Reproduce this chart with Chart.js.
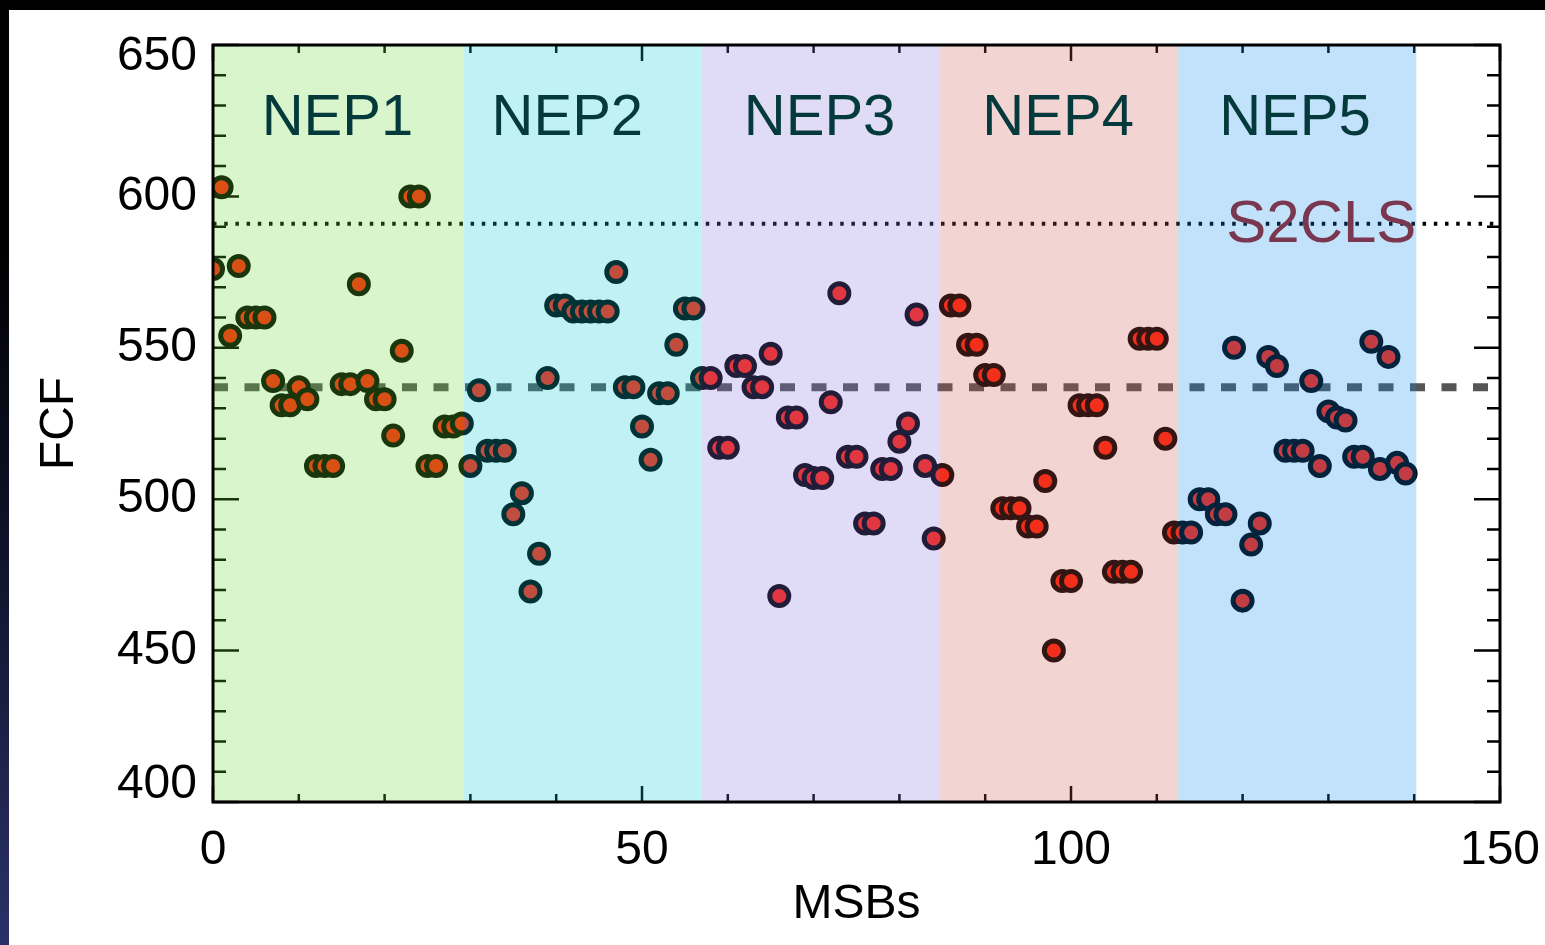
<!DOCTYPE html>
<html>
<head>
<meta charset="utf-8">
<title>FCF per MSB</title>
<script src="https://cdn.jsdelivr.net/npm/chart.js@4/dist/chart.umd.min.js"></script>
<style>
  html, body { margin: 0; padding: 0; }
  body {
    width: 1545px; height: 945px; overflow: hidden;
    background: linear-gradient(180deg, #000 0%, #000 25%, #10142c 60%, #2b3168 100%);
  }
  #wrap { position: absolute; left: 9px; top: 10px; width: 1536px; height: 935px; background: #fff; }
</style>
</head>
<body>
<div id="wrap"><canvas id="fcfChart" width="1536" height="935"></canvas></div>
<script>
/* FCF of every MSB, shaded by NEP field */

// one FCF value per MSB, MSB number = position in the list
let fcf = [
  576, 603, 554, 577, 560, 560, 560, 539, 531, 531,
  537, 533, 511, 511, 511, 538, 538, 571, 539, 533,
  533, 521, 549, 600, 600, 511, 511, 524, 524, 525,
  511, 536, 516, 516, 516, 495, 502, 469.5, 482, 540,
  564, 564, 562, 562, 562, 562, 562, 575, 537, 537,
  524, 513, 535, 535, 551, 563, 563, 540, 540, 517,
  517, 544, 544, 537, 537, 548, 468, 527, 527, 508,
  507, 507, 532, 568, 514, 514, 492, 492, 510, 510,
  519, 525, 561, 511, 487, 508, 564, 564, 551, 551,
  541, 541, 497, 497, 497, 491, 491, 506, 450, 473,
  473, 531, 531, 531, 517, 476, 476, 476, 553, 553,
  553, 520, 489, 489, 489, 500, 500, 495, 495, 550,
  466.5, 485, 492, 547, 544, 516, 516, 516, 539, 511,
  529, 527, 526, 514, 514, 552, 510, 547, 512, 508.5
];

let fieldNames = ['NEP1', 'NEP2', 'NEP3', 'NEP4', 'NEP5'];
let fieldEdges = [0, 29.25, 57, 84.75, 112.5, 140.25];
let fieldLabelX = [14.5, 41.3, 70.7, 98.5, 126.1];
let fieldColors = ['rgb(103,215,51)', 'rgb(3,203,215)', 'rgb(131,115,227)', 'rgb(203,83,75)', 'rgb(11,139,239)'];

let meanFcf = 537;   // dashed line
let s2clsFcf = 591;  // dotted line

let xTickValues = [0, 50, 100, 150];
let yTickValues = [400, 450, 500, 550, 600, 650];

Chart.defaults.font.family = '"Liberation Sans", Arial, Helvetica, sans-serif';
Chart.defaults.color = '#000';

let points = fcf.map((v, i) => ({ x: i, y: v }));

// ticks under the shading, frame and text on top of it
let decorations = {
  id: 'decorations',
  beforeDatasetsDraw(chart) {
    let { ctx, chartArea: a, scales: { x, y } } = chart;
    ctx.save();
    ctx.strokeStyle = '#000';
    ctx.lineWidth = 2.5;
    ctx.beginPath();
    for (let v = y.min; v <= y.max; v += 10) {
      let py = y.getPixelForValue(v);
      let len = v % 50 === 0 ? 26 : 13;
      ctx.moveTo(a.left, py); ctx.lineTo(a.left + len, py);
      ctx.moveTo(a.right, py); ctx.lineTo(a.right - len, py);
    }
    for (let v = x.min; v <= x.max; v += 10) {
      let px = x.getPixelForValue(v);
      let len = v % 50 === 0 ? 16 : 8;
      ctx.moveTo(px, a.bottom); ctx.lineTo(px, a.bottom - len);
      ctx.moveTo(px, a.top); ctx.lineTo(px, a.top + len);
    }
    ctx.stroke();
    ctx.restore();
  },
  afterDatasetsDraw(chart) {
    let { ctx, chartArea: a, scales: { x, y } } = chart;
    ctx.save();

    // field bands
    ctx.globalAlpha = 0.25;
    for (let i = 0; i < fieldNames.length; i++) {
      let x0 = x.getPixelForValue(fieldEdges[i]);
      let x1 = x.getPixelForValue(fieldEdges[i + 1]);
      ctx.fillStyle = fieldColors[i];
      ctx.fillRect(x0, a.top, x1 - x0, a.bottom - a.top);
    }
    ctx.globalAlpha = 1;

    // axes box
    ctx.strokeStyle = '#000';
    ctx.lineWidth = 3;
    ctx.strokeRect(a.left, a.top, a.right - a.left, a.bottom - a.top);

    // field names
    ctx.font = '58px "Liberation Sans", Arial, sans-serif';
    ctx.fillStyle = '#053a3c';
    ctx.textAlign = 'center';
    ctx.textBaseline = 'alphabetic';
    fieldNames.forEach((name, i) => {
      ctx.fillText(name, x.getPixelForValue(fieldLabelX[i]), a.top + 90);
    });

    // S2CLS tag on the dotted line
    ctx.font = '60px "Liberation Sans", Arial, sans-serif';
    ctx.fillStyle = '#7a3750';
    ctx.textAlign = 'right';
    ctx.fillText('S2CLS', x.getPixelForValue(fieldEdges[fieldEdges.length - 1]), y.getPixelForValue(s2clsFcf) + 18);

    // y tick labels, end ones kept inside the box
    ctx.font = '48px "Liberation Sans", Arial, sans-serif';
    ctx.fillStyle = '#000';
    ctx.textAlign = 'right';
    ctx.textBaseline = 'middle';
    yTickValues.forEach(v => {
      let py = Math.min(Math.max(y.getPixelForValue(v), a.top + 12), a.bottom - 17);
      ctx.fillText(String(v), a.left - 16, py);
    });

    ctx.restore();
  }
};

let ctx = document.getElementById('fcfChart').getContext('2d');

let fcfChart = new Chart(ctx, {
  type: 'scatter',
  data: {
    datasets: [
      {
        label: 'FCF',
        data: points,
        backgroundColor: 'rgb(255,35,10)',
        borderColor: '#000',
        borderWidth: 5,
        pointRadius: 9.5,
        clip: 0
      },
      {
        type: 'line',
        label: 'mean',
        data: [{ x: 0, y: meanFcf }, { x: 150, y: meanFcf }],
        borderColor: '#555',
        borderWidth: 8,
        borderDash: [15, 16.5],
        pointRadius: 0
      },
      {
        type: 'line',
        label: 'S2CLS',
        data: [{ x: 0, y: s2clsFcf }, { x: 150, y: s2clsFcf }],
        borderColor: '#000',
        borderWidth: 4,
        borderDash: [3.5, 7.7],
        pointRadius: 0
      }
    ]
  },
  options: {
    responsive: false,
    animation: false,
    events: [],
    layout: { padding: { left: 0, top: 35, right: 45, bottom: 0 } },
    plugins: {
      legend: { display: false },
      tooltip: { enabled: false }
    },
    scales: {
      x: {
        type: 'linear',
        min: 0,
        max: 150,
        grid: { display: false, drawTicks: false },
        border: { display: false },
        afterBuildTicks: (scale) => {
          scale.ticks = xTickValues.map(v => ({ value: v }));
        },
        afterFit: (scale) => {
          scale.height = 143;
          scale.paddingLeft = 0;
          scale.paddingRight = 0;
        },
        ticks: {
          autoSkip: false,
          maxRotation: 0,
          padding: 20,
          font: { size: 48 },
          color: '#000'
        },
        title: {
          display: true,
          text: 'MSBs',
          font: { size: 48, lineHeight: 1 },
          padding: { top: 0, bottom: 16 },
          color: '#000'
        }
      },
      y: {
        type: 'linear',
        min: 400,
        max: 650,
        grid: { display: false, drawTicks: false },
        border: { display: false },
        afterFit: (scale) => { scale.width = 204; },
        ticks: { display: false, stepSize: 50 },
        title: {
          display: true,
          text: 'FCF',
          font: { size: 48, lineHeight: 1 },
          padding: { top: 27, bottom: 0 },
          color: '#000'
        }
      }
    }
  },
  plugins: [decorations]
});
</script>
</body>
</html>
